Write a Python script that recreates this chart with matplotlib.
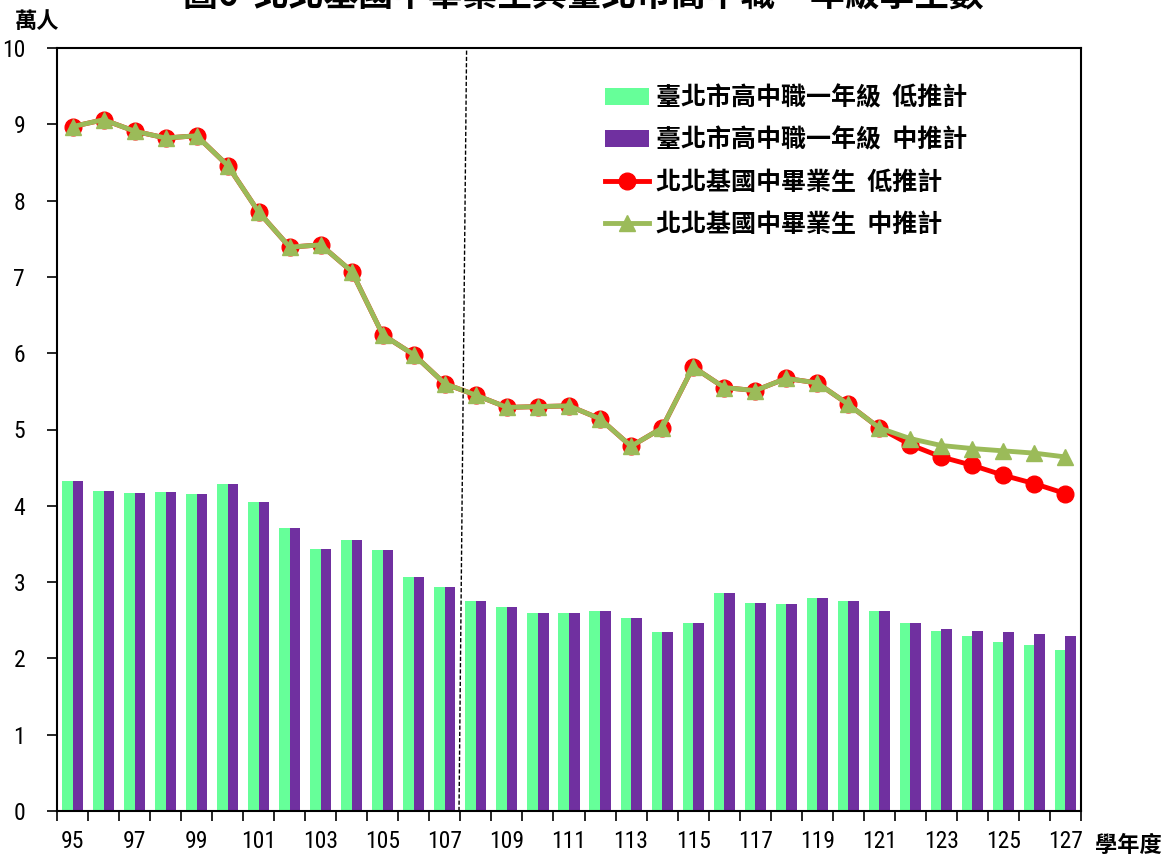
import matplotlib
matplotlib.use('Agg')
import matplotlib.pyplot as plt
import numpy as np

plt.rcParams['font.family'] = ['Liberation Sans Narrow', 'DejaVu Sans Condensed', 'Roboto Condensed',
                               'Liberation Sans', 'Noto Sans CJK TC']

years = list(range(95, 128))

# 臺北市高中職一年級 (萬人)
hs_low = [4.33, 4.20, 4.17, 4.18, 4.15, 4.28, 4.05, 3.71, 3.43, 3.55, 3.42, 3.07, 2.94,
          2.75, 2.68, 2.60, 2.60, 2.62, 2.53, 2.35, 2.47, 2.86, 2.73, 2.71, 2.79, 2.75,
          2.62, 2.46, 2.36, 2.29, 2.22, 2.17, 2.11]
hs_mid = [4.33, 4.20, 4.17, 4.18, 4.15, 4.28, 4.05, 3.71, 3.43, 3.55, 3.42, 3.07, 2.94,
          2.75, 2.68, 2.60, 2.60, 2.62, 2.53, 2.35, 2.47, 2.86, 2.73, 2.71, 2.79, 2.75,
          2.62, 2.47, 2.39, 2.36, 2.34, 2.32, 2.30]

# 北北基國中畢業生 (萬人)
grad_low = [8.97, 9.06, 8.91, 8.82, 8.85, 8.46, 7.85, 7.39, 7.42, 7.07, 6.24, 5.98, 5.60,
            5.45, 5.29, 5.30, 5.31, 5.14, 4.78, 5.02, 5.82, 5.55, 5.51, 5.67, 5.61, 5.33,
            5.02, 4.80, 4.64, 4.53, 4.40, 4.29, 4.16]
grad_mid = [8.97, 9.06, 8.91, 8.82, 8.85, 8.46, 7.85, 7.39, 7.42, 7.07, 6.24, 5.98, 5.60,
            5.45, 5.29, 5.30, 5.31, 5.14, 4.78, 5.02, 5.82, 5.55, 5.51, 5.67, 5.61, 5.33,
            5.02, 4.88, 4.79, 4.75, 4.72, 4.69, 4.64]

x = np.arange(len(years))

fig = plt.figure(figsize=(11.74, 8.57), dpi=100)
ax = fig.add_axes([57/1174, 46/857, 1024/1174, 763/857])

w = 0.34
ax.bar(x - w/2, hs_low, w, color='#66FF99', label='臺北市高中職一年級  低推計', zorder=2)
ax.bar(x + w/2, hs_mid, w, color='#7030A0', label='臺北市高中職一年級  中推計', zorder=2)
ax.plot(x, grad_low, color='#FF0000', lw=3.5, marker='o', ms=12,
        label='北北基國中畢業生  低推計', zorder=3)
ax.plot(x, grad_mid, color='#9BBB59', lw=3.5, marker='^', ms=12,
        label='北北基國中畢業生  中推計', zorder=4)

# 推計起點分隔線
ax.plot([12.455, 12.70], [0, 10], color='black', lw=1, ls=(0, (3, 1.5)), zorder=5)

ax.set_xlim(-0.5, len(years) - 0.5)
ax.set_ylim(0, 10)
ax.set_yticks(range(0, 11))
ax.tick_params(axis='y', direction='out', length=7, width=1.2, pad=16, labelsize=17)
ax.set_xticks(x)
ax.set_xticklabels([str(y) if y % 2 == 1 else '' for y in years])
ax.tick_params(axis='x', which='major', length=0, pad=14, labelsize=17)
ax.set_xticks(np.arange(-0.5, len(years)), minor=True)
ax.tick_params(axis='x', which='minor', direction='out', length=7, width=1.2)
for s in ax.spines.values():
    s.set_linewidth(1.5)

h, l = ax.get_legend_handles_labels()
order = [2, 3, 0, 1]
leg = ax.legend([h[i] for i in order], [l[i] for i in order],
                loc='upper left', bbox_to_anchor=(0.513, 0.98), frameon=False,
                prop={'family': ['Noto Sans CJK TC'], 'weight': 'bold', 'size': 18},
                handlelength=1.75, handletextpad=0.3, labelspacing=0.72)

fig.text(0.497, 1.006, '圖6  北北基國中畢業生與臺北市高中職一年級學生數', ha='center', va='center',
         fontsize=25, fontweight='bold', family=['Noto Sans CJK TC'])
fig.text(37/1174, 1 - 22/857, '萬人', ha='center', va='center', fontsize=16,
         fontweight='bold', family=['Noto Sans CJK TC'])
fig.text(1128/1174, 1 - 845/857, '學年度', ha='center', va='center', fontsize=16,
         fontweight='bold', family=['Noto Sans CJK TC'])

plt.savefig('out.png', dpi=100)
